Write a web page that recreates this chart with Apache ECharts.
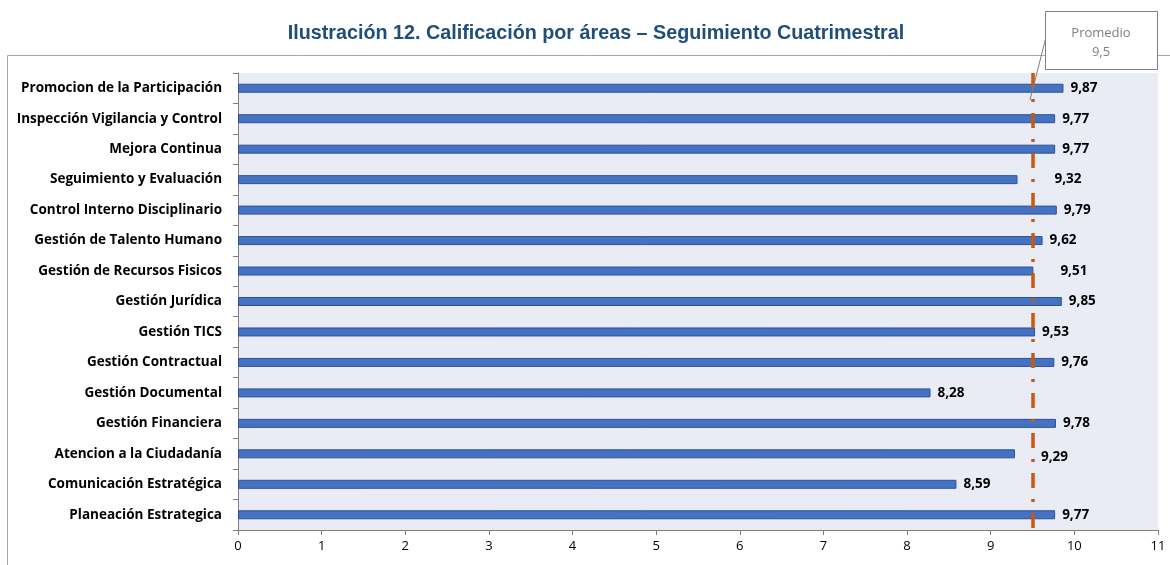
<!DOCTYPE html>
<html>
<head>
<meta charset="utf-8">
<script src="https://cdn.jsdelivr.net/npm/echarts@6/dist/echarts.min.js"></script>
<style>
html, body { margin: 0; padding: 0; background: #fff; }
#main { width: 1170px; height: 565px; }
</style>
</head>
<body>
<div id="main"></div>
<script>
// areas, top to bottom as in the picture
var areas = [
  "Promocion de la Participación",
  "Inspección Vigilancia y Control",
  "Mejora Continua",
  "Seguimiento y Evaluación",
  "Control Interno Disciplinario",
  "Gestión de Talento Humano",
  "Gestión de Recursos Fisicos",
  "Gestión Jurídica",
  "Gestión TICS",
  "Gestión Contractual",
  "Gestión Documental",
  "Gestión Financiera",
  "Atencion a la Ciudadanía",
  "Comunicación Estratégica",
  "Planeación Estrategica"
];
var scores = [9.87, 9.77, 9.77, 9.32, 9.79, 9.62, 9.51, 9.85, 9.53, 9.76, 8.28, 9.78, 9.29, 8.59, 9.77];
var average = 9.5;
var xTicks = [0, 11];

// labels that Excel pushed away from the average line
var labelShift = { 3: 37, 6: 27, 12: 26 };

var myChart = echarts.init(document.getElementById("main"));

var barData = scores.map(function (v, i) {
  var item = { value: v };
  if (labelShift[i] !== undefined) {
    item.label = { offset: [labelShift[i] - 7, i === 12 ? 3 : 0] };
  }
  return item;
});

myChart.setOption({
  animation: false,
  grid: {
    left: 238,
    right: 12,
    top: 73,
    bottom: 35,
    show: true,
    backgroundColor: "#E9EBF5",
    borderWidth: 0
  },
  xAxis: {
    type: "value",
    min: xTicks[0],
    max: xTicks[1],
    interval: 1,
    splitLine: { show: false },
    axisLine: { show: true, lineStyle: { color: "#7F7F7F" } },
    axisTick: { show: true, length: 5, lineStyle: { color: "#7F7F7F" } },
    axisLabel: {
      color: "#000",
      fontFamily: "Open Sans",
      fontSize: 13,
      margin: 10
    }
  },
  yAxis: {
    type: "category",
    data: areas,
    inverse: true,
    axisLine: { show: true, lineStyle: { color: "#7F7F7F" } },
    axisTick: { show: true, length: 5, lineStyle: { color: "#7F7F7F" } },
    axisLabel: {
      color: "#000",
      fontFamily: "Open Sans",
      fontWeight: "bold",
      fontSize: 13.5,
      margin: 16
    }
  },
  series: [
    {
      type: "bar",
      data: barData,
      barWidth: 9,
      itemStyle: {
        color: "#4472C4",
        borderColor: "#2F528F",
        borderWidth: 1
      },
      label: {
        show: true,
        position: "right",
        distance: 7,
        color: "#000",
        fontFamily: "Open Sans",
        fontWeight: "bold",
        fontSize: 13.5,
        formatter: function (p) {
          return p.value.toFixed(2).replace(".", ",");
        }
      },
      markLine: {
        silent: true,
        symbol: "none",
        z: 10,
        label: { show: false },
        lineStyle: {
          color: "#C55A11",
          width: 3.5,
          type: [15, 11, 3, 11]
        },
        data: [{ xAxis: average }]
      }
    }
  ],
  graphic: [
    {
      type: "text",
      x: 596,
      y: 33,
      scaleX: 0.94,
      style: {
        text: "Ilustración 12. Calificación por áreas – Seguimiento Cuatrimestral",
        fill: "#1F4E79",
        font: "bold 21px 'Liberation Sans'",
        align: "center",
        verticalAlign: "middle"
      }
    },
    {
      type: "rect",
      shape: { x: 7.5, y: 55.5, width: 1180, height: 540 },
      style: { fill: null, stroke: "#A6A6A6", lineWidth: 1 },
      z: -1
    },
    {
      type: "line",
      shape: { x1: 1046, y1: 37, x2: 1030, y2: 100 },
      style: { stroke: "#7F7F7F", lineWidth: 1 },
      z: 100
    },
    {
      type: "rect",
      shape: { x: 1045.5, y: 11.5, width: 112, height: 58 },
      style: { fill: "#fff", stroke: "#7F7F7F", lineWidth: 1 },
      z: 101
    },
    {
      type: "text",
      x: 1101,
      y: 43,
      style: {
        text: "Promedio\n9,5",
        fill: "#7F7F7F",
        font: "13px 'Open Sans'",
        align: "center",
        verticalAlign: "middle",
        lineHeight: 19
      },
      z: 102
    }
  ]
});
</script>
</body>
</html>
